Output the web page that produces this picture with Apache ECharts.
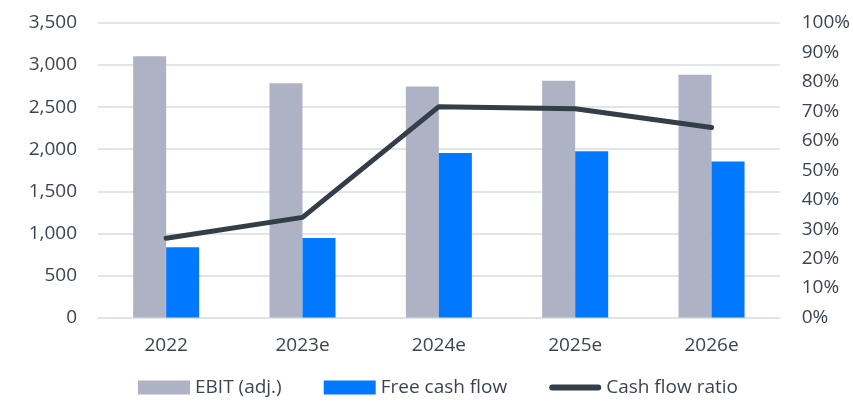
<!DOCTYPE html>
<html>
<head>
<meta charset="utf-8">
<script src="https://cdn.jsdelivr.net/npm/echarts@6/dist/echarts.min.js"></script>
<style>html,body{margin:0;padding:0;background:#fff}#c{width:853px;height:404px}</style>
</head>
<body>
<div id="c"></div>
<script>
const categories = ['2022', '2023e', '2024e', '2025e', '2026e'];
const ebitAdj = [3105, 2785, 2745, 2815, 2885];
const freeCashFlow = [835, 945, 1955, 1975, 1855];
const cashFlowRatio = [0.269, 0.340, 0.716, 0.709, 0.645];
const leftTicks = { min: 0, max: 3500, interval: 500 };
const rightTicks = { min: 0, max: 1, interval: 0.1 };

const textColor = '#3b4552';
const font = 'Open Sans';
const fs = 19;
const chart = echarts.init(document.getElementById('c'), null, { renderer: 'canvas' });
chart.setOption({
  animation: false,
  textStyle: { fontFamily: font },
  grid: { left: 98, right: 70, top: 23, bottom: 86.5, containLabel: false },
  legend: {
    left: 133, bottom: 2,
    itemWidth: 52, itemHeight: 14, itemGap: 42, itemTextGap: 6,
    textStyle: { color: textColor, fontSize: fs, fontFamily: font },
    data: [
      { name: 'EBIT (adj.)', icon: 'rect' },
      { name: 'Free cash flow', icon: 'rect' },
      { name: 'Cash flow ratio', icon: 'path://M3,0 L49,0 A3,3 0 0 1 49,6 L3,6 A3,3 0 0 1 3,0 Z' }
    ]
  },
  xAxis: {
    type: 'category', data: categories,
    axisLine: { lineStyle: { color: '#dfe3e8', width: 2 } },
    axisTick: { show: false },
    axisLabel: { color: textColor, fontSize: fs, margin: 19, fontFamily: font }
  },
  yAxis: [
    {
      type: 'value', min: leftTicks.min, max: leftTicks.max, interval: leftTicks.interval,
      axisLine: { show: false }, axisTick: { show: false },
      splitLine: { lineStyle: { color: '#e1e5ea', width: 2 } },
      axisLabel: { color: textColor, fontSize: fs, margin: 21, fontFamily: font,
        formatter: v => v.toLocaleString('en-US') }
    },
    {
      type: 'value', min: rightTicks.min, max: rightTicks.max, interval: rightTicks.interval,
      axisLine: { show: false }, axisTick: { show: false }, splitLine: { show: false },
      axisLabel: { color: textColor, fontSize: fs, margin: 22, fontFamily: font,
        formatter: v => Math.round(v * 100) + '%' }
    }
  ],
  series: [
    { name: 'EBIT (adj.)', type: 'bar', data: ebitAdj, barWidth: 33, barGap: '0%',
      itemStyle: { color: '#adb3c4' } },
    { name: 'Free cash flow', type: 'bar', data: freeCashFlow, barWidth: 33, barGap: '0%',
      itemStyle: { color: '#0078ff' } },
    { name: 'Cash flow ratio', type: 'line', yAxisIndex: 1, data: cashFlowRatio,
      symbol: 'none', showSymbol: false, z: 5,
      lineStyle: { color: '#333e48', width: 5, cap: 'round', join: 'round' },
      itemStyle: { color: '#333e48' } }
  ]
});
</script>
</body>
</html>
